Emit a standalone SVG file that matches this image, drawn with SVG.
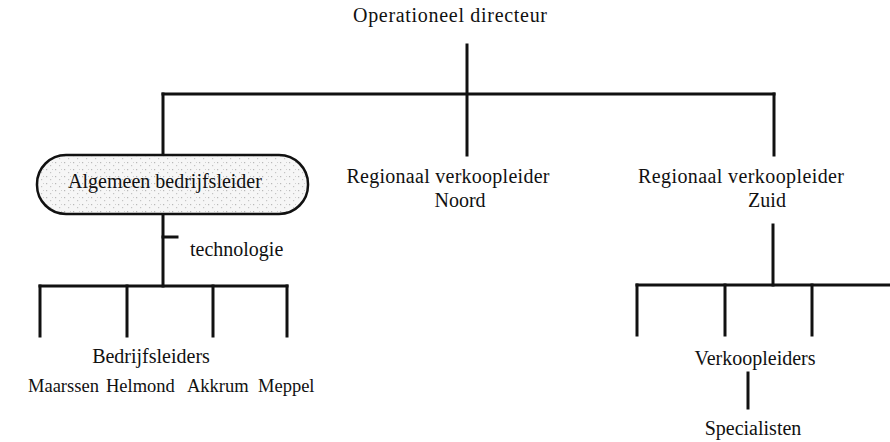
<svg xmlns="http://www.w3.org/2000/svg" width="890" height="442" viewBox="0 0 890 442">
  <style>
    text { font-family: "Liberation Serif", "Times New Roman", serif; font-size: 20px; fill: #111; }
    .mid { text-anchor: middle; }
    .site { font-size: 18.5px; }
    .line { stroke: #111; stroke-width: 3; fill: none; stroke-linecap: square; }
  </style>
  <defs>
    <!-- halftone speckle for the highlighted unit -->
    <pattern id="speckle" width="9" height="7" patternUnits="userSpaceOnUse">
      <rect width="9" height="7" fill="#f6f6f6"/>
      <rect x="1" y="1" width="1.2" height="1.2" fill="#b8b8b8"/>
      <rect x="5" y="4" width="1.2" height="1.2" fill="#c4c4c4"/>
      <rect x="7" y="1" width="1" height="1" fill="#d0d0d0"/>
    </pattern>
  </defs>

  <g id="connectors">
    <!-- director to the three units -->
    <line class="line" x1="467" y1="45" x2="467" y2="155"/>
    <line class="line" x1="163" y1="94" x2="774" y2="94"/>
    <line class="line" x1="163" y1="94" x2="163" y2="155"/>
    <line class="line" x1="774" y1="94" x2="774" y2="155"/>
    <!-- general manager to site managers -->
    <line class="line" x1="163" y1="214" x2="163" y2="286"/>
    <line class="line" x1="163" y1="237" x2="177" y2="237"/>
    <line class="line" x1="40" y1="286" x2="287" y2="286"/>
    <line class="line" x1="40" y1="286" x2="40" y2="336"/>
    <line class="line" x1="127" y1="286" x2="127" y2="336"/>
    <line class="line" x1="213" y1="286" x2="213" y2="336"/>
    <line class="line" x1="287" y1="286" x2="287" y2="336"/>
    <!-- region south to sales managers -->
    <line class="line" x1="773" y1="225" x2="773" y2="285"/>
    <line class="line" x1="637" y1="285" x2="890" y2="285"/>
    <line class="line" x1="637" y1="285" x2="637" y2="335"/>
    <line class="line" x1="725" y1="285" x2="725" y2="335"/>
    <line class="line" x1="812" y1="285" x2="812" y2="335"/>
    <line class="line" x1="748" y1="373" x2="748" y2="408"/>
  </g>

  <g id="operationeel-directeur">
    <text class="mid" x="450" y="22" textLength="194" lengthAdjust="spacing">Operationeel directeur</text>
  </g>

  <g id="algemeen-bedrijfsleider">
    <rect x="37" y="155" width="271" height="59" rx="29" ry="29" fill="url(#speckle)" stroke="#111" stroke-width="2.5"/>
    <text class="mid" x="165" y="188">Algemeen bedrijfsleider</text>
  </g>

  <g id="technologie">
    <text x="190" y="256">technologie</text>
  </g>

  <g id="regio-noord">
    <text class="mid" x="448" y="183" textLength="203" lengthAdjust="spacing">Regionaal verkoopleider</text>
    <text class="mid" x="460" y="207">Noord</text>
  </g>

  <g id="regio-zuid">
    <text class="mid" x="741" y="183" textLength="206" lengthAdjust="spacing">Regionaal verkoopleider</text>
    <text class="mid" x="767" y="207">Zuid</text>
  </g>

  <g id="bedrijfsleiders">
    <text class="mid" x="151" y="363">Bedrijfsleiders</text>
    <text class="site" x="28" y="392">Maarssen</text>
    <text class="site" x="106" y="392">Helmond</text>
    <text class="site" x="187" y="392">Akkrum</text>
    <text class="site" x="258" y="392">Meppel</text>
  </g>

  <g id="verkoopleiders">
    <text class="mid" x="755" y="365">Verkoopleiders</text>
  </g>

  <g id="specialisten">
    <text class="mid" x="753" y="435">Specialisten</text>
  </g>
</svg>
